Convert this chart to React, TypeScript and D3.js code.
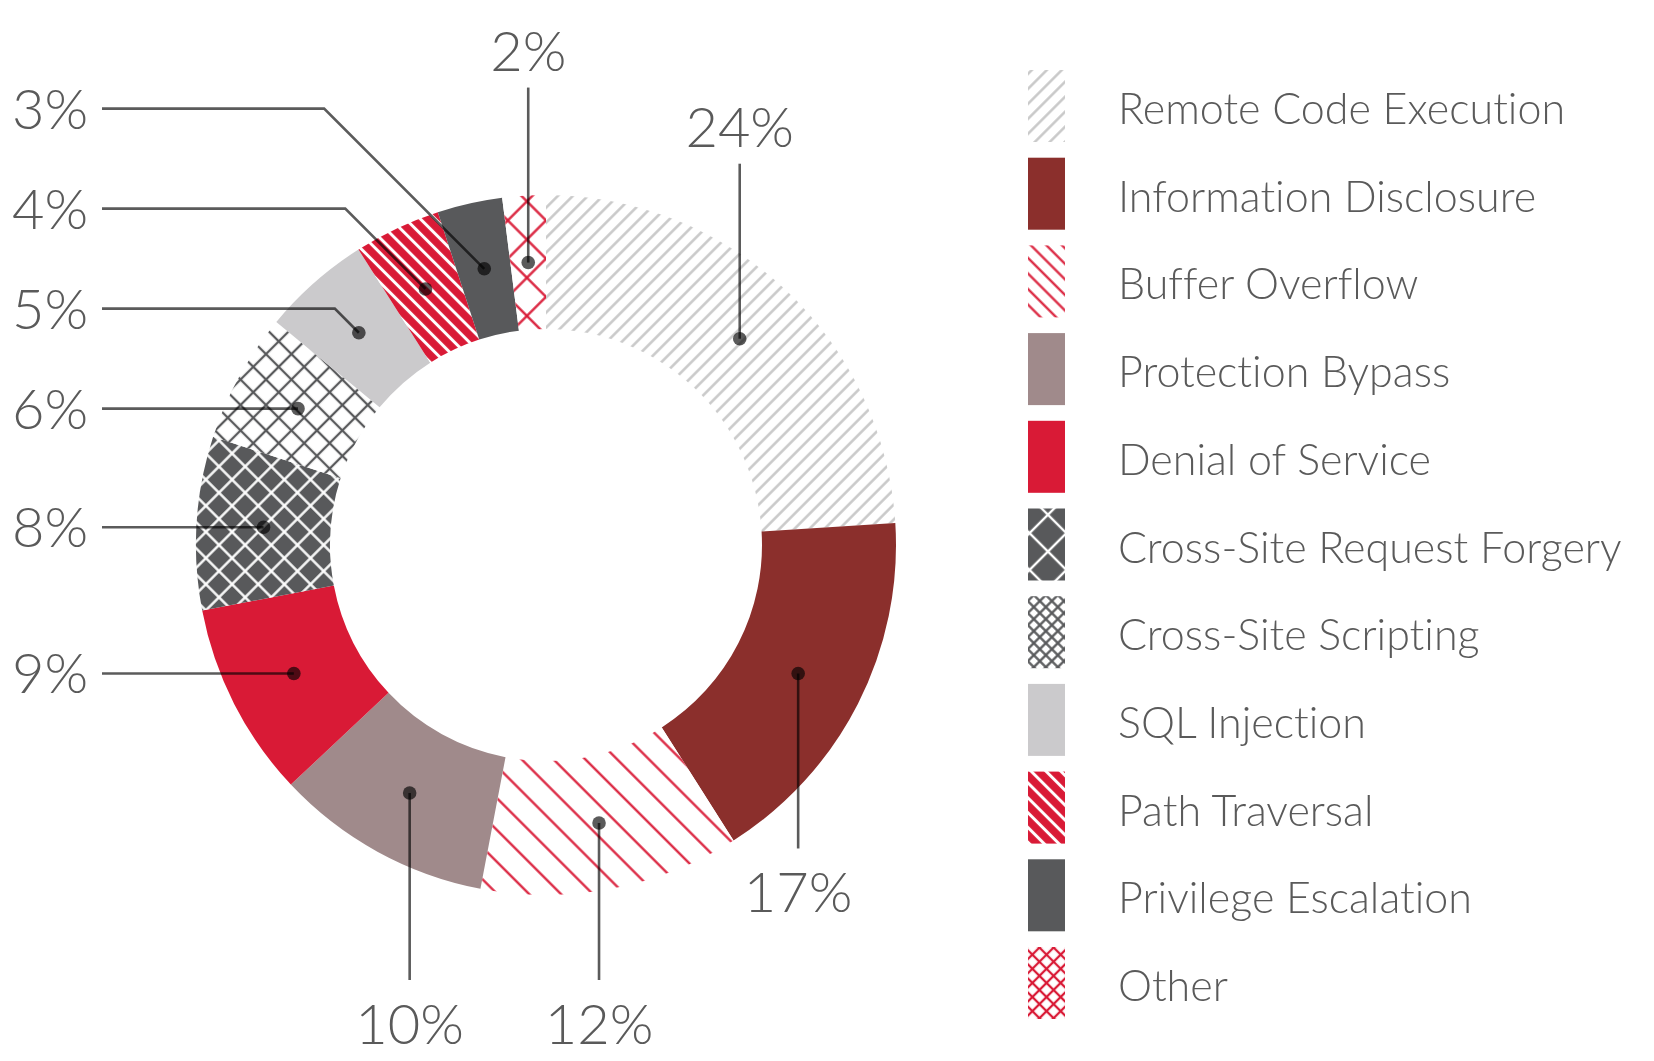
import React from "react";
import * as d3 from "d3";

// vulnerability categories and their share of the total (percent)
const categories = [
  "Remote Code Execution",
  "Information Disclosure",
  "Buffer Overflow",
  "Protection Bypass",
  "Denial of Service",
  "Cross-Site Request Forgery",
  "Cross-Site Scripting",
  "SQL Injection",
  "Path Traversal",
  "Privilege Escalation",
  "Other",
];
const shares = [24, 17, 12, 10, 9, 8, 6, 5, 4, 3, 2];

// fill style per category (same order as above)
const fillKeys = [
  "hatchGray",
  "maroon",
  "hatchRed",
  "mauve",
  "red",
  "crossDark",
  "crossGray",
  "lightGray",
  "hatchWhiteOnRed",
  "darkGray",
  "crossRed",
];

const COLORS: Record<string, string> = {
  maroon: "#8b2f2c",
  mauve: "#a08a8b",
  red: "#d91a36",
  lightGray: "#cbcacc",
  darkGray: "#58595b",
};

const W = 1654;
const H = 1061;
const cx = 546;
const cy = 545;
const rOuter = 350;
const rInner = 216;
const textColor = "#5a5a5a";
const font = "Lato, 'Open Sans', sans-serif";

type PatProps = {
  id: string;
  s: number;
  angle: number;
  color: string;
  width: number;
  bg?: string;
  cross?: boolean;
};

const Pat = ({ id, s, angle, color, width, bg, cross }: PatProps) => (
  <pattern
    id={id}
    patternUnits="userSpaceOnUse"
    width={s}
    height={s}
    patternTransform={`rotate(${angle})`}
  >
    <rect width={s} height={s} fill={bg || "#fff"} />
    <line x1={s / 2} y1={0} x2={s / 2} y2={s} stroke={color} strokeWidth={width} />
    {cross && (
      <line x1={0} y1={s / 2} x2={s} y2={s / 2} stroke={color} strokeWidth={width} />
    )}
  </pattern>
);

const patterns = (suffix: string, legend: boolean) => [
  <Pat key="a" id={"hatchGray" + suffix} s={10.6} angle={45} color="#c6c6c6" width={2.4} />,
  <Pat key="b" id={"hatchRed" + suffix} s={legend ? 11 : 22.5} angle={-45} color={COLORS.red} width={2.2} />,
  <Pat key="c" id={"crossDark" + suffix} s={legend ? 26 : 18.5} angle={45} color="#fff" width={2.4} bg={COLORS.darkGray} cross />,
  <Pat key="d" id={"crossGray" + suffix} s={legend ? 8.5 : 18} angle={45} color={COLORS.darkGray} width={2.3} cross />,
  <Pat key="e" id={"hatchWhiteOnRed" + suffix} s={10.5} angle={-45} color="#fff" width={3} bg={COLORS.red} />,
  <Pat key="f" id={"crossRed" + suffix} s={legend ? 10 : 27} angle={45} color={COLORS.red} width={2.3} cross />,
];

const fillFor = (key: string, suffix: string) =>
  COLORS[key] ? COLORS[key] : `url(#${key}${suffix})`;

export default function App() {
  const pie = d3
    .pie<number>()
    .sort(null)
    .value((d) => d);
  const arcs = pie(shares);
  const arc = d3
    .arc<d3.PieArcDatum<number>>()
    .innerRadius(rInner)
    .outerRadius(rOuter);

  // label layout
  const deg = (a: number) => (a * 180) / Math.PI;
  const items = arcs.map((a, i) => {
    const [x, y] = arc.centroid(a);
    const mid = deg((a.startAngle + a.endAngle) / 2);
    const side = mid >= 225 && mid < 350 ? "left" : mid >= 350 || mid < 90 ? "top" : "bottom";
    return { i, dot: [cx + x, cy + y], side, label: `${shares[i]}%` };
  });

  const leaderLen = 175;
  const bottomRow = 980; // common end line for the lowest leaders
  const leftStart = 102;
  const leftText = 12;
  const gap = 100;

  const left = items.filter((d) => d.side === "left").sort((a, b) => b.dot[1] - a.dot[1]);
  const leftY: Record<number, number> = {};
  let prev = Infinity;
  left.forEach((d) => {
    const y = Math.min(d.dot[1], prev - gap);
    leftY[d.i] = y;
    prev = y;
  });
  const bottomEnd = (y: number) => (y > cy + 200 ? bottomRow : y + leaderLen);

  const legendY = d3
    .scaleBand<string>()
    .domain(categories)
    .range([66, 66 + categories.length * 87.7]);

  return (
    <svg
      width={W}
      height={H}
      style={{ position: "absolute", left: 0, top: 0, background: "#fff", fontVariantLigatures: "none" }}
      fontFamily={font}
    >
      <defs>
        {patterns("-d", false)}
        {patterns("-l", true)}
      </defs>

      <g transform={`translate(${cx},${cy})`}>
        {arcs.map((a, i) => (
          <path key={i} d={arc(a) || ""} fill={fillFor(fillKeys[i], "-d")} />
        ))}
      </g>

      <g stroke="#5b5b5b" strokeWidth={2.6} fill="none" style={{ mixBlendMode: "multiply" }}>
        {items.map((d) => {
          const [x, y] = d.dot;
          let pts: [number, number][];
          if (d.side === "left") {
            const ly = leftY[d.i];
            const elbow = x - (y - ly);
            pts = ly === y ? [[leftStart, ly], [x, y]] : [[leftStart, ly], [elbow, ly], [x, y]];
          } else if (d.side === "top") {
            pts = [[x, y - leaderLen], [x, y]];
          } else {
            pts = [[x, y], [x, bottomEnd(y)]];
          }
          return <path key={d.i} d={d3.line()(pts) || ""} />;
        })}
      </g>
      <g fill="#5b5b5b" style={{ mixBlendMode: "multiply" }}>
        {items.map((d) => (
          <circle key={d.i} cx={d.dot[0]} cy={d.dot[1]} r={6.8} />
        ))}
      </g>

      <g fill={textColor} fontSize={56} fontWeight={300}>
        {items.map((d) => {
          const [x, y] = d.dot;
          if (d.side === "left") {
            return (
              <text key={d.i} x={leftText} y={leftY[d.i] + 20}>
                {d.label}
              </text>
            );
          }
          if (d.side === "top") {
            return (
              <text key={d.i} x={x} y={y - leaderLen - 17} textAnchor="middle">
                {d.label}
              </text>
            );
          }
          return (
            <text key={d.i} x={x} y={bottomEnd(y) + 64} textAnchor="middle">
              {d.label}
            </text>
          );
        })}
      </g>

      <g>
        {categories.map((c, i) => {
          const y0 = legendY(c) || 0;
          return (
            <g key={c}>
              <rect x={1028} y={y0 + 4} width={37} height={72} fill={fillFor(fillKeys[i], "-l")} />
              <text x={1118} y={y0 + 58} fontSize={43} fontWeight={300} fill={textColor}>
                {c}
              </text>
            </g>
          );
        })}
      </g>
    </svg>
  );
}
